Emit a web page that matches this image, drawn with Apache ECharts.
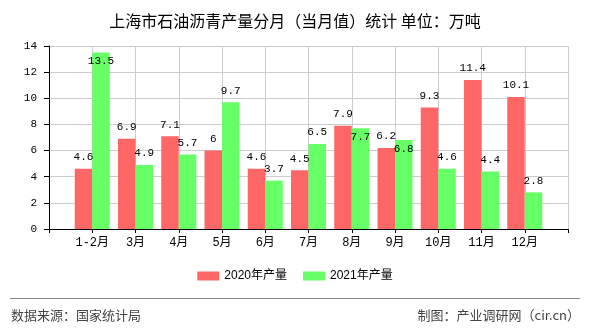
<!DOCTYPE html>
<html>
<head>
<meta charset="utf-8">
<script src="https://cdn.jsdelivr.net/npm/echarts@6/dist/echarts.min.js"></script>
<style>html,body{margin:0;padding:0;background:#fff;}#c{width:590px;height:330px;}</style>
</head>
<body>
<div id="c"></div>
<script>
var titleText = '上海市石油沥青产量分月（当月值）统计 单位：万吨';
var categories = ['1-2月','3月','4月','5月','6月','7月','8月','9月','10月','11月','12月'];
var seriesNames = ['2020年产量','2021年产量'];
var v2020 = [4.6,6.9,7.1,6,4.6,4.5,7.9,6.2,9.3,11.4,10.1];
var v2021 = [13.5,4.9,5.7,9.7,3.7,6.5,7.7,6.8,4.6,4.4,2.8];
var yTicks = [0,2,4,6,8,10,12,14];
var sourceText = '数据来源：国家统计局';
var creditText = '制图：产业调研网（cir.cn）';

var monoFont = '"Liberation Mono","DejaVu Sans Mono","Noto Sans CJK SC",monospace';
var xCats = [''].concat(categories).concat(['']);
var d2020 = ['-'].concat(v2020).concat(['-']);
var d2021 = ['-'].concat(v2021.map(function (g, i) {
  var inside = Math.abs(g - v2020[i]) < 0.7 || g > yTicks[yTicks.length - 1] - 1;
  return inside ? { value: g, label: { position: 'insideTop', distance: 3 } } : g;
})).concat(['-']);

var chart = echarts.init(document.getElementById('c'), null, { renderer: 'canvas' });
var labelCfg = { show: true, position: 'top', distance: 6, color: '#000', fontSize: 11, fontFamily: monoFont };
chart.setOption({
  animation: false,
  title: { text: titleText, left: 'center', top: 8,
    textStyle: { fontSize: 16, fontWeight: 'normal', color: '#000', fontFamily: '"Noto Sans CJK SC",sans-serif' } },
  grid: { left: 49, right: 22, top: 46, bottom: 101, containLabel: false },
  legend: { top: 265, left: 'center', itemWidth: 22, itemHeight: 9, itemGap: 16,
    icon: 'rect',
    textStyle: { fontSize: 12, color: '#000', fontFamily: '"Liberation Sans","Noto Sans CJK SC",sans-serif' },
    data: seriesNames },
  xAxis: { type: 'category', data: xCats, boundaryGap: false,
    axisLine: { lineStyle: { color: '#000', width: 1 } },
    axisTick: { show: true, length: 4, lineStyle: { color: '#000' } },
    axisLabel: { interval: 0, margin: 8, color: '#000', fontSize: 12, fontFamily: monoFont },
    splitLine: { show: true, lineStyle: { color: '#ccc' } } },
  yAxis: { type: 'value', min: yTicks[0], max: yTicks[yTicks.length - 1], interval: 2,
    axisLine: { show: true, lineStyle: { color: '#000' } },
    axisTick: { show: true, length: 5, lineStyle: { color: '#000' } },
    axisLabel: { margin: 12, color: '#000', fontSize: 11, fontFamily: monoFont },
    splitLine: { show: true, lineStyle: { color: '#ccc' } } },
  series: [
    { name: seriesNames[0], type: 'bar', data: d2020, barWidth: 17.5, barGap: '0%',
      itemStyle: { color: '#ff6666' }, label: labelCfg },
    { name: seriesNames[1], type: 'bar', data: d2021, barWidth: 17.5, barGap: '0%',
      itemStyle: { color: '#66ff66' }, label: labelCfg }
  ],
  graphic: [
    { type: 'line', shape: { x1: 10, y1: 298.5, x2: 580, y2: 298.5 }, style: { stroke: '#888', lineWidth: 1 } },
    { type: 'text', left: 11, top: 309, style: { text: sourceText, fontSize: 13, fill: '#444', fontFamily: '"Noto Sans CJK SC",sans-serif' } },
    { type: 'text', right: 10, top: 309, style: { text: creditText, fontSize: 13, fill: '#444', fontFamily: '"Noto Sans CJK SC",sans-serif' } }
  ]
});
</script>
</body>
</html>
